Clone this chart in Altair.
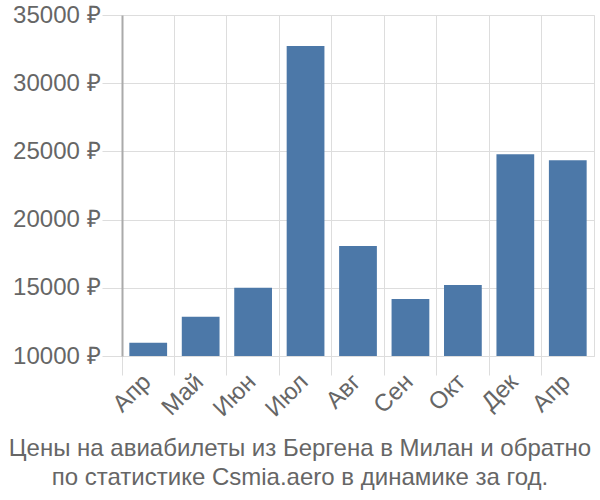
import altair as alt
import pandas as pd

months = ["Апр", "Май", "Июн", "Июл", "Авг", "Сен", "Окт", "Дек", "Апр"]
prices = [10970, 12870, 15000, 32730, 18060, 14180, 15200, 24800, 24350]
y_ticks = [10000, 15000, 20000, 25000, 30000, 35000]
title_lines = ["Цены на авиабилеты из Бергена в Милан и обратно",
               "по статистике Csmia.aero в динамике за год."]

df = pd.DataFrame({"idx": list(range(len(months))), "month": months, "price": prices})

label_map = "[" + ",".join("'" + m + "'" for m in months) + "]"
FONT = "Liberation Sans"
GRAY = "#666666"
GRID = "#dddddd"

chart = alt.Chart(df).mark_bar(color="#4c78a8", width=alt.RelativeBandSize(0.72)).encode(
    x=alt.X("idx:O", title=None,
            scale=alt.Scale(paddingInner=0, paddingOuter=0),
            axis=alt.Axis(labelExpr=label_map + "[datum.value]",
                          labelAngle=-45, labelFontSize=24, labelColor=GRAY, labelFont=FONT,
                          labelAlign="right", labelBaseline="middle",
                          bandPosition=0, grid=True, gridColor=GRID, gridWidth=1,
                          tickColor=GRID, tickSize=19, tickWidth=1,
                          domainColor=GRID, labelPadding=3, labelOffset=-1)),
    y=alt.Y("price:Q", title=None,
            scale=alt.Scale(domain=[10000, 35000], zero=False, nice=False),
            axis=alt.Axis(values=y_ticks, labelExpr="datum.value + ' ₽'",
                          labelFontSize=24, labelColor=GRAY, labelFont=FONT,
                          grid=True, gridColor=GRID, gridWidth=1,
                          tickColor=GRID, tickSize=20, tickWidth=1,
                          domainColor="#aaaaaa", domainWidth=2, labelPadding=2)),
    y2=alt.datum(10000),
).properties(
    width=472, height=341,
    title=alt.TitleParams(text=title_lines, orient="bottom", anchor="middle",
                          fontSize=24, font=FONT, color=GRAY, fontWeight="normal",
                          dx=-58, offset=16, lineHeight=29),
    autosize=alt.AutoSizeParams(type="none"),
    padding={"left": 122, "top": 15, "right": 6, "bottom": 144},
).configure_view(stroke=GRID)

chart.save("out.html", embed_options={"renderer": "svg", "actions": False})
